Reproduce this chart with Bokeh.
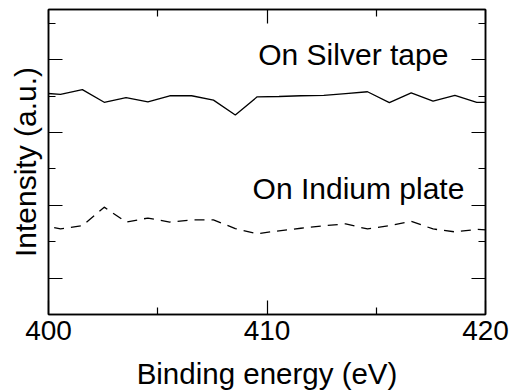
from bokeh.plotting import figure
from bokeh.models import LinearAxis, FixedTicker, Label, Range1d
from bokeh.embed import file_html
from bokeh.resources import INLINE

# Binding energy (eV) sample points
energy = [399.5, 400.55, 401.55, 402.55, 403.55, 404.55, 405.55, 406.55, 407.55,
          408.55, 409.55, 410.55, 411.55, 412.6, 413.6, 414.6, 415.6, 416.6,
          417.6, 418.6, 419.6, 420.6]
# Intensity (a.u.) on silver tape (solid)
silver = [6.09, 6.05, 6.18, 5.83, 5.96, 5.84, 6.01, 6.01, 5.89, 5.48, 5.98,
          5.99, 6.01, 6.02, 6.07, 6.12, 5.82, 6.09, 5.86, 6.02, 5.83, 5.83]
# Intensity (a.u.) on indium plate (dashed)
indium = [2.49, 2.35, 2.44, 2.95, 2.54, 2.65, 2.54, 2.60, 2.60, 2.36, 2.22,
          2.30, 2.37, 2.44, 2.49, 2.35, 2.44, 2.56, 2.35, 2.27, 2.34, 2.30]

x_ticks = [400, 410, 420]
x_minor = [405, 415]
y_ticks = [1, 3, 5, 7]
y_minor = [2, 4, 6, 8]

FONT = "Liberation Sans"

p = figure(width=515, height=392, output_backend="svg", toolbar_location=None,
           x_range=Range1d(400, 420), y_range=Range1d(0, 8.38),
           min_border_left=48, min_border_right=30, min_border_top=9,
           min_border_bottom=77)
p.background_fill_color = "white"
p.border_fill_color = "white"
p.outline_line_color = "black"
p.outline_line_width = 1.5
p.xgrid.visible = False
p.ygrid.visible = False

p.line(energy, silver, line_color="black", line_width=1.3)
p.line(energy, indium, line_color="black", line_width=1.3, line_dash="10 7")


def style(ax, labels, ticks=None):
    ax.axis_line_color = "black"
    ax.axis_line_width = 1.5
    ax.major_tick_in = 14
    ax.major_tick_out = 0
    ax.minor_tick_in = 7
    ax.minor_tick_out = 0
    ax.major_tick_line_width = 1.2
    ax.minor_tick_line_width = 1.2
    ax.major_tick_line_color = "black"
    ax.minor_tick_line_color = "black"
    if not labels:
        ax.major_label_overrides = {t: "" for t in ticks}
        ax.major_label_text_font_size = "1px"
        ax.major_label_standoff = 0


xb = p.xaxis[0]
xb.ticker = FixedTicker(ticks=x_ticks, minor_ticks=x_minor)
style(xb, True)
xb.major_label_text_font = FONT
xb.major_label_text_font_size = "28px"
xb.major_label_text_color = "black"
xb.major_label_standoff = 6
xb.axis_label = "Binding energy (eV)"
xb.axis_label_text_font = FONT
xb.axis_label_text_font_size = "29.5px"
xb.axis_label_text_font_style = "normal"
xb.axis_label_text_color = "black"
xb.axis_label_standoff = 14

yl = p.yaxis[0]
yl.ticker = FixedTicker(ticks=y_ticks, minor_ticks=y_minor)
style(yl, False, y_ticks)
yl.axis_label = "Intensity (a.u.)"
yl.axis_label_text_font = FONT
yl.axis_label_text_font_size = "30px"
yl.axis_label_text_font_style = "normal"
yl.axis_label_text_color = "black"
yl.axis_label_standoff = 7

xt = LinearAxis(ticker=FixedTicker(ticks=x_ticks, minor_ticks=x_minor))
style(xt, False, x_ticks)
p.add_layout(xt, "above")

yr = LinearAxis(ticker=FixedTicker(ticks=y_ticks, minor_ticks=y_minor))
style(yr, False, y_ticks)
p.add_layout(yr, "right")

p.add_layout(Label(x=409.6, y=7.15, text="On Silver tape", text_font=FONT,
                   text_font_size="30px", text_color="black",
                   text_baseline="alphabetic", text_align="left"))
p.add_layout(Label(x=409.34, y=3.45, text="On Indium plate", text_font=FONT,
                   text_font_size="30px", text_color="black",
                   text_baseline="alphabetic", text_align="left"))

open("out.html", "w").write(file_html(p, INLINE))
